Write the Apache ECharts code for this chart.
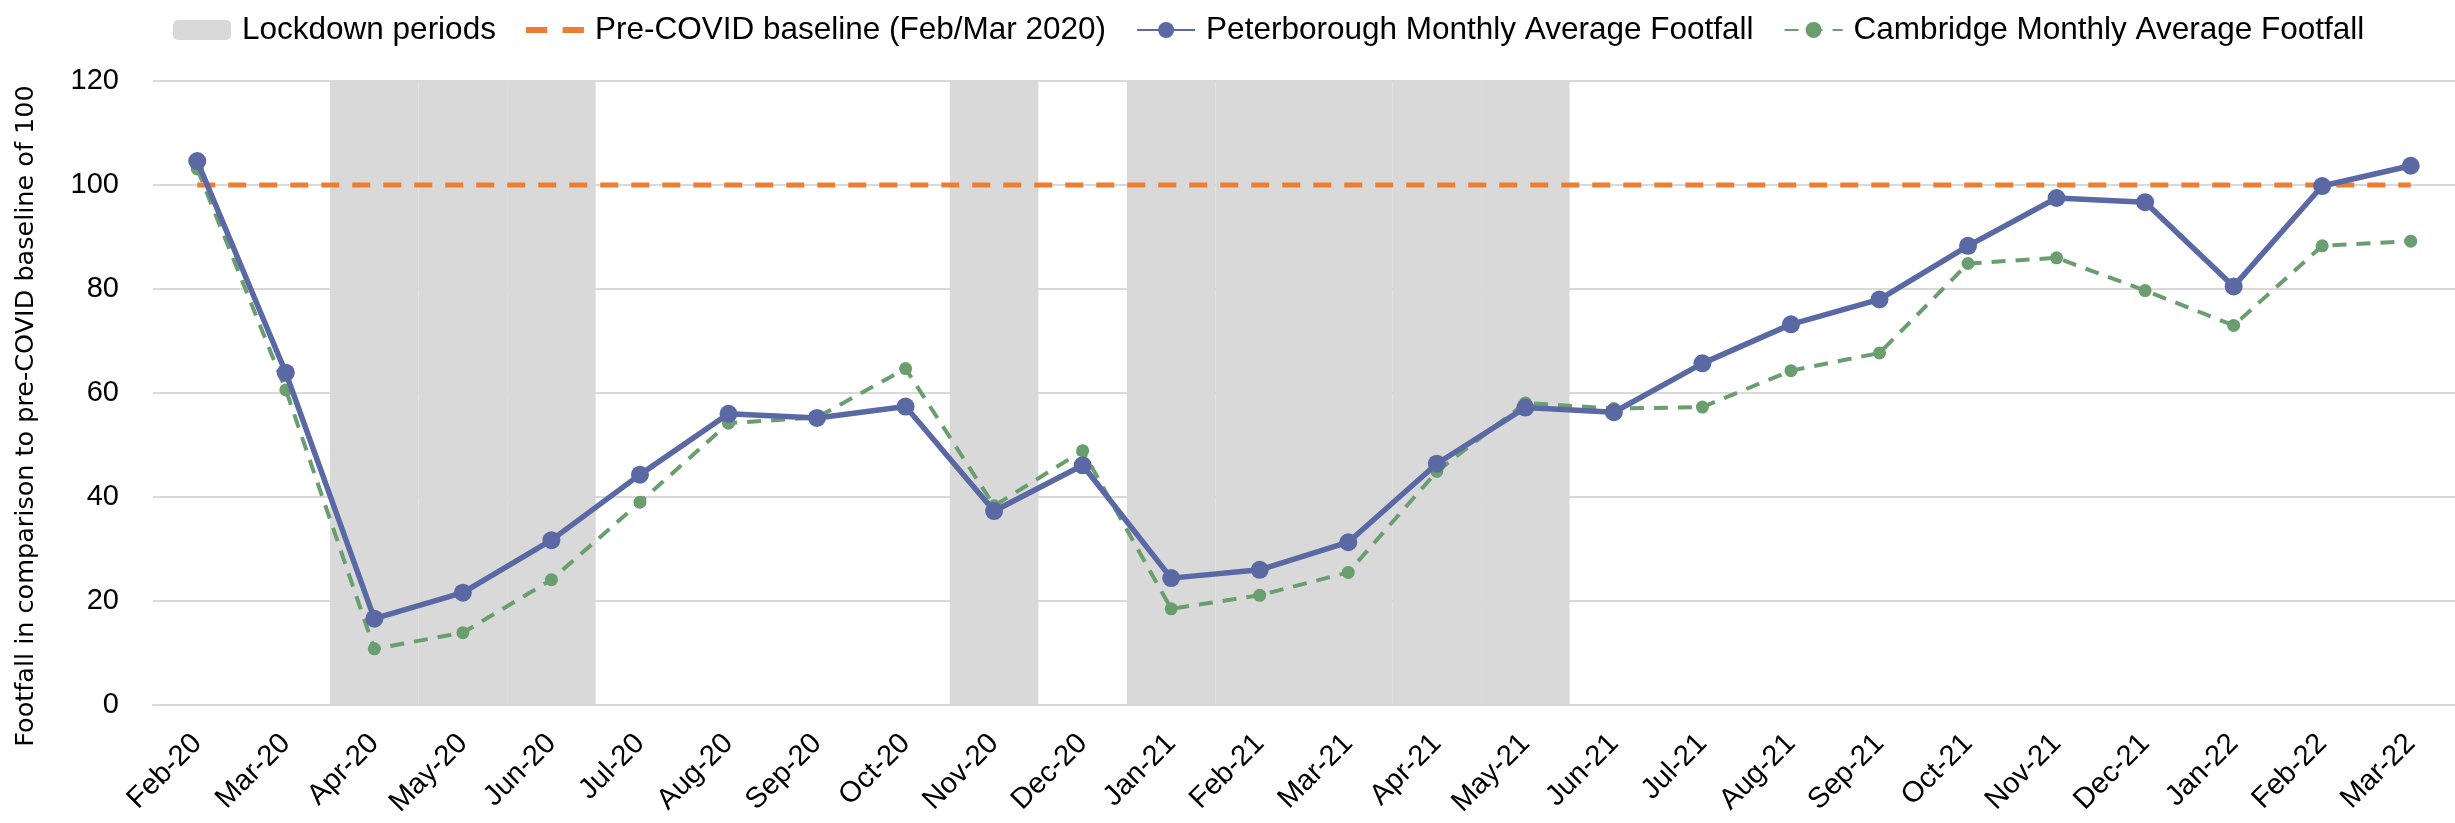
<!DOCTYPE html>
<html>
<head>
<meta charset="utf-8">
<script src="https://cdn.jsdelivr.net/npm/echarts@6/dist/echarts.min.js"></script>
<style>
  html, body { margin: 0; padding: 0; background: #fff; }
  #chart { width: 2455px; height: 823px; }
</style>
</head>
<body>
<div id="chart"></div>
<script>
// months on the x axis
var months = ['Feb-20','Mar-20','Apr-20','May-20','Jun-20','Jul-20','Aug-20','Sep-20','Oct-20','Nov-20','Dec-20',
  'Jan-21','Feb-21','Mar-21','Apr-21','May-21','Jun-21','Jul-21','Aug-21','Sep-21','Oct-21','Nov-21','Dec-21',
  'Jan-22','Feb-22','Mar-22'];

// grey bands: 120 = lockdown month, 0 = not
var lockdown = [0,0,120,120,120,0,0,0,0,120,0,120,120,120,120,120,0,0,0,0,0,0,0,0,0,0];

var baseline = [100,100,100,100,100,100,100,100,100,100,100,100,100,100,100,100,100,100,100,100,100,100,100,100,100,100];

var peterborough = [104.6,63.9,16.6,21.6,31.7,44.3,56.0,55.2,57.4,37.3,46.1,24.4,26.0,31.3,46.4,57.2,
  56.3,65.7,73.2,78.0,88.3,97.5,96.7,80.5,99.8,103.7];

var cambridge = [103.1,60.6,10.8,13.9,24.1,39.0,54.2,55.3,64.7,38.3,48.9,18.5,21.1,25.5,44.9,58.1,
  57.0,57.3,64.3,67.7,84.9,86.0,79.7,73.0,88.3,89.2];

var yTicks = { min: 0, max: 120, interval: 20 };

var font = 'Liberation Sans';
var chart = echarts.init(document.getElementById('chart'));

chart.setOption({
  animation: false,
  legend: {
    left: 168,
    top: 9,
    itemWidth: 58,
    itemHeight: 20,
    itemGap: 30,
    textStyle: { fontFamily: font, fontSize: 31.5, color: '#000', padding: [0, 0, 0, 6] },
    data: [
      'Lockdown periods',
      // two short orange dashes, like the dashed baseline
      { name: 'Pre-COVID baseline (Feb/Mar 2020)', icon: 'path://M0,0h18v5h-18z M31,0h18v5h-18z' },
      'Peterborough Monthly Average Footfall',
      'Cambridge Monthly Average Footfall'
    ]
  },
  grid: { left: 153, right: 0, top: 81, bottom: 118 },
  xAxis: {
    type: 'category',
    data: months,
    boundaryGap: true,
    axisLine: { lineStyle: { color: '#D9D9D9', width: 2 } },
    axisTick: { show: false },
    axisLabel: { interval: 0, rotate: 45, margin: 34, fontFamily: font, fontSize: 29, color: '#000' }
  },
  yAxis: {
    type: 'value',
    min: yTicks.min,
    max: yTicks.max,
    interval: yTicks.interval,
    name: 'Footfall in comparison to pre-COVID baseline of 100',
    nameLocation: 'middle',
    nameGap: 114,
    nameTextStyle: { fontFamily: 'DejaVu Sans', fontSize: 25.5, color: '#000', padding: [0, 46, 0, 0] },
    axisLine: { show: false },
    axisTick: { show: false },
    axisLabel: { margin: 34, fontFamily: font, fontSize: 29, color: '#000' },
    splitLine: { lineStyle: { color: '#D9D9D9', width: 2 } }
  },
  series: [
    {
      name: 'Lockdown periods',
      type: 'bar',
      data: lockdown,
      barWidth: '100%',
      barGap: '-100%',
      itemStyle: { color: '#D9D9D9' },
      z: 1
    },
    {
      name: 'Pre-COVID baseline (Feb/Mar 2020)',
      type: 'line',
      data: baseline,
      symbol: 'none',
      lineStyle: { color: '#ED7D31', width: 5, type: [18, 13] },
      itemStyle: { color: '#ED7D31' },
      z: 3
    },
    {
      name: 'Peterborough Monthly Average Footfall',
      type: 'line',
      data: peterborough,
      symbol: 'circle',
      symbolSize: 18,
      lineStyle: { color: '#5A69A4', width: 5.5 },
      itemStyle: { color: '#5A69A4' },
      z: 5
    },
    {
      name: 'Cambridge Monthly Average Footfall',
      type: 'line',
      data: cambridge,
      symbol: 'circle',
      symbolSize: 13,
      lineStyle: { color: '#6A9E6F', width: 4, type: [14, 10] },
      itemStyle: { color: '#6A9E6F' },
      z: 4
    }
  ]
});
</script>
</body>
</html>
